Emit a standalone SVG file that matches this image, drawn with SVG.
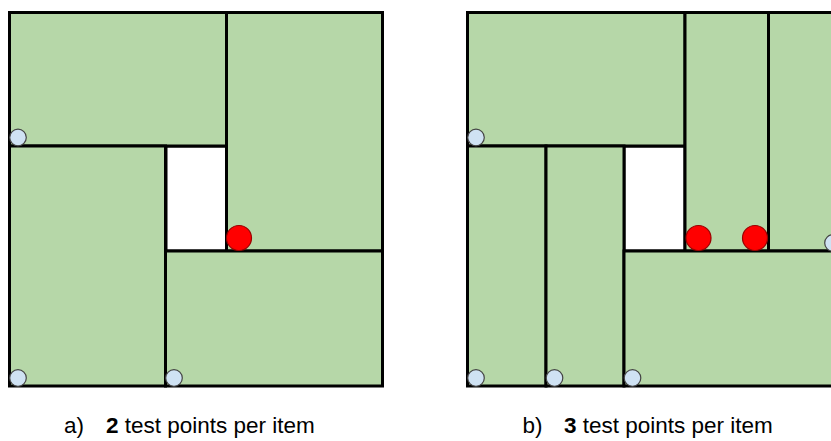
<svg xmlns="http://www.w3.org/2000/svg" width="831" height="441" viewBox="0 0 831 441">
<style>
.box{fill:#b6d7a8;stroke:#000;stroke-width:3}
.hole{fill:#fff;stroke:#000;stroke-width:3}
.tp{fill:#cfe2f3;stroke:#444;stroke-width:1.2}
.bad{fill:#ff0000;stroke:#900;stroke-width:1.2}
.lbl{font-family:"Liberation Sans",Arial,sans-serif;font-size:22.5px;fill:#000}
</style>
<rect width="831" height="441" fill="#fff"/>
<g id="panel-a">
  <g id="a-hole"><rect class="hole" x="166" y="146" width="61" height="105"/></g>
  <g id="a-top-left"><rect class="box" x="9.5" y="12.5" width="217" height="133.5"/></g>
  <g id="a-top-right"><rect class="box" x="226.5" y="12.5" width="156" height="238.5"/></g>
  <g id="a-bottom-left"><rect class="box" x="9.5" y="146" width="156" height="240"/></g>
  <g id="a-bottom-right"><rect class="box" x="165.5" y="251" width="217" height="135"/></g>
  <g id="a-points">
    <circle class="tp" cx="18" cy="137.5" r="8.3"/>
    <circle class="tp" cx="18" cy="378" r="8.3"/>
    <circle class="tp" cx="174" cy="378" r="8.3"/>
    <circle class="bad" cx="239" cy="238" r="12.5"/>
  </g>
  <text class="lbl" x="64" y="433">a)<tspan x="106" font-weight="bold">2</tspan> test points per item</text>
</g>
<g id="panel-b">
  <g id="b-hole"><rect class="hole" x="624" y="146" width="61" height="105"/></g>
  <g id="b-top-left"><rect class="box" x="467.5" y="12.5" width="217.5" height="133.5"/></g>
  <g id="b-top-mid"><rect class="box" x="685" y="12.5" width="83.5" height="238.5"/></g>
  <g id="b-top-right"><rect class="box" x="768.5" y="12.5" width="80" height="238.5"/></g>
  <g id="b-bottom-left1"><rect class="box" x="467.5" y="146" width="78.5" height="240"/></g>
  <g id="b-bottom-left2"><rect class="box" x="546" y="146" width="78" height="240"/></g>
  <g id="b-bottom-right"><rect class="box" x="624" y="251" width="224" height="135"/></g>
  <g id="b-points">
    <circle class="tp" cx="476" cy="137.5" r="8.3"/>
    <circle class="tp" cx="476" cy="378" r="8.3"/>
    <circle class="tp" cx="554.5" cy="378" r="8.3"/>
    <circle class="tp" cx="632.5" cy="378" r="8.3"/>
    <circle class="tp" cx="833" cy="243" r="8.3"/>
    <circle class="bad" cx="698.5" cy="238" r="12.5"/>
    <circle class="bad" cx="755" cy="238" r="12.5"/>
  </g>
  <text class="lbl" x="522.5" y="433">b)<tspan x="564" font-weight="bold">3</tspan> test points per item</text>
</g>
</svg>
